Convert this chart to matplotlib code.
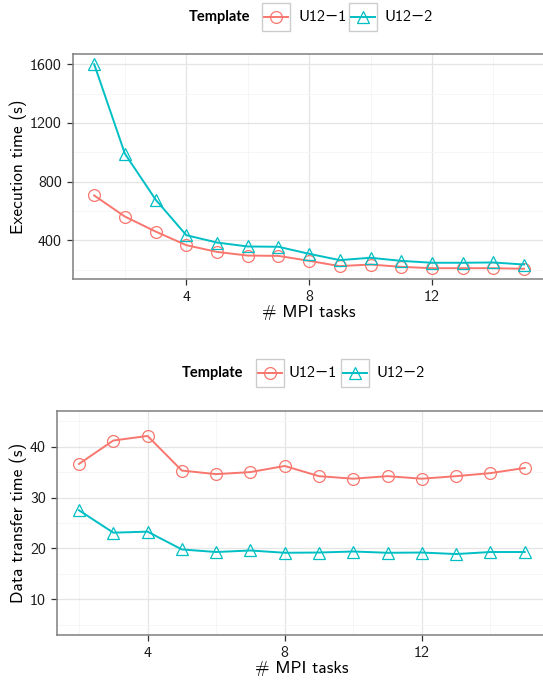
import matplotlib
matplotlib.use('Agg')
import matplotlib.pyplot as plt
from matplotlib.lines import Line2D
from matplotlib.patches import Rectangle

plt.rcParams['font.family'] = ['cmss10', 'DejaVu Sans']
plt.rcParams['axes.unicode_minus'] = False

# execution time (s) vs number of MPI tasks
tasks_exec = [1, 2, 3, 4, 5, 6, 7, 8, 9, 10, 11, 12, 13, 14, 15]
exec_u1 = [705, 561, 459, 366, 320, 295, 293, 259, 223, 234, 218, 209, 209, 209, 205]
exec_u2 = [1600, 990, 677, 434, 384, 357, 355, 307, 264, 280, 259, 246, 246, 248, 234]

# data transfer time (s) vs number of MPI tasks
tasks_dt = [2, 3, 4, 5, 6, 7, 8, 9, 10, 11, 12, 13, 14, 15]
dt_u1 = [36.6, 41.2, 42.1, 35.3, 34.6, 35.0, 36.2, 34.2, 33.7, 34.2, 33.7, 34.2, 34.8, 35.8]
dt_u2 = [27.5, 23.1, 23.3, 19.8, 19.3, 19.6, 19.15, 19.2, 19.4, 19.15, 19.2, 18.9, 19.3, 19.3]

labels = ['U12\u22121', 'U12\u22122']
colors = ['#F8766D', '#00BFC4']
markers = ['o', '^']

W, H = 543, 681
fig = plt.figure(figsize=(W / 100, H / 100), dpi=100)


def px_axes(left, top, right, bottom):
    return fig.add_axes([left / W, 1 - bottom / H, (right - left) / W, (bottom - top) / H])


def style(ax, xmaj, xmin, ymaj, ymin):
    ax.set_xticks(xmaj)
    ax.set_xticks(xmin, minor=True)
    ax.set_yticks(ymaj)
    ax.set_yticks(ymin, minor=True)
    ax.grid(which='major', color='#e5e5e5', lw=0.9)
    ax.grid(which='minor', color='#f6f6f6', lw=0.7)
    ax.set_axisbelow(True)
    for s in ax.spines.values():
        s.set_color('#7f7f7f')
        s.set_linewidth(1.1)
    ax.tick_params(which='major', length=4.3, width=0.9, color='#333333',
                   labelsize=11.5, labelcolor='#1a1a1a', pad=3.5)
    ax.tick_params(which='minor', length=0)


def draw(ax, x, ys):
    for y, c, m in zip(ys, colors, markers):
        ax.plot(x, y, color=c, lw=1.4, marker=m, markersize=8.5,
                markerfacecolor='none', markeredgecolor=c, markeredgewidth=0.9)


def legend(ytop, tx, boxes):
    fig.text(tx / W, 1 - (ytop + 14) / H, 'Template', fontsize=10.5, fontweight='bold',
             family=['Lato', 'DejaVu Sans'], ha='left', va='center')
    for (bx, lx), lab, c, m in zip(boxes, labels, colors, markers):
        fig.patches.append(Rectangle((bx / W, 1 - (ytop + 28) / H), 28 / W, 28 / H,
                                     transform=fig.transFigure, facecolor='white',
                                     edgecolor='#cccccc', lw=1.0))
        yc = 1 - (ytop + 14) / H
        fig.lines.append(Line2D([(bx + 2) / W, (bx + 26) / W], [yc, yc], transform=fig.transFigure,
                                color=c, lw=1.4))
        fig.lines.append(Line2D([(bx + 14) / W], [yc], transform=fig.transFigure, color=c,
                                marker=m, markersize=8.5, markerfacecolor='none',
                                markeredgewidth=0.9))
        fig.text(lx / W, yc, lab, fontsize=11.5, ha='left', va='center')


# top panel
ax1 = px_axes(72.7, 54, 545.5, 279)
draw(ax1, tasks_exec, [exec_u1, exec_u2])
ax1.margins(x=0.05, y=0.05)
style(ax1, [4, 8, 12], [2, 6, 10, 14], [400, 800, 1200, 1600], [200, 600, 1000, 1400])
ax1.set_ylabel('Execution time (s)', fontsize=12.5, labelpad=2)
ax1.set_xlabel('# MPI tasks', fontsize=12.5, labelpad=1)
legend(3, 189, [(262, 298), (349, 384)])

# bottom panel
ax2 = px_axes(56.7, 411, 547, 635)
draw(ax2, tasks_dt, [dt_u1, dt_u2])
ax2.margins(x=0.05)
ax2.set_ylim(3, 47)
style(ax2, [4, 8, 12], [2, 6, 10, 14], [10, 20, 30, 40], [5, 15, 25, 35, 45])
ax2.set_ylabel('Data transfer time (s)', fontsize=12.5, labelpad=2)
ax2.set_xlabel('# MPI tasks', fontsize=12.5, labelpad=1)
legend(359, 182, [(256, 289), (341, 377)])

fig.savefig('out.png', dpi=100)
